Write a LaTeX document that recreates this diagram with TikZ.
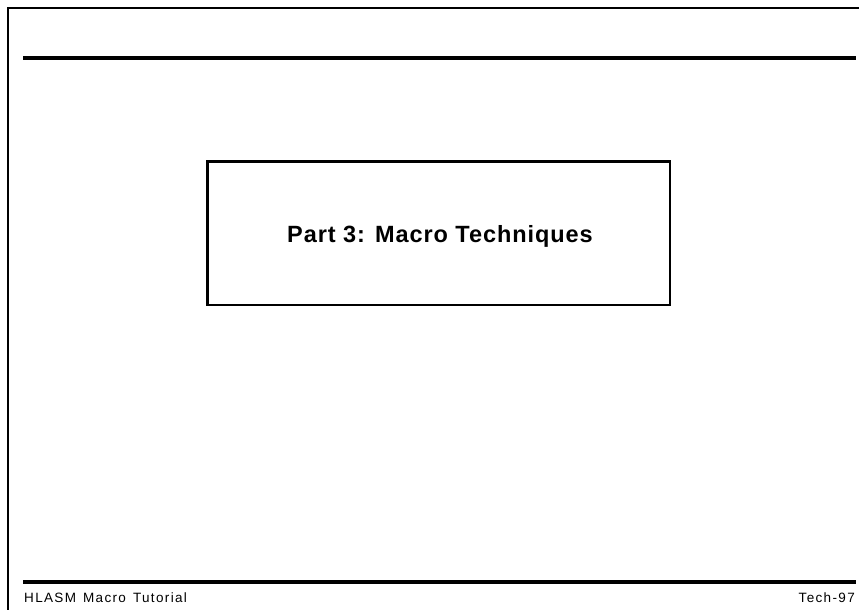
\documentclass[tikz,border=0pt]{standalone}
\usepackage{fontspec}
\setmainfont{Liberation Sans}
\newcommand\mytitlefont{\fontsize{23.5}{28}\selectfont\bfseries\addfontfeature{LetterSpace=4}}
\newcommand\myfootfont{\fontsize{13.5}{16}\selectfont\addfontfeature{LetterSpace=10}\spaceskip=7pt plus 1pt\relax}
\begin{document}
\begin{tikzpicture}[x=1pt,y=-1pt,
  frameline/.style={line width=1.2pt,black},
  rule/.style={line width=4.5pt,black},
  boxline/.style={line width=2.6pt,black},
  titletext/.style={inner sep=0pt,anchor=base,font={\mytitlefont}},
  foottext/.style={inner sep=0pt,font={\myfootfont}}]
\useasboundingbox (0,0) rectangle (859,610);
% outer frame
\coordinate (fbl) at (8,610);
\coordinate (ftl) at (8,8);
\coordinate (ftr) at (859,8);
\draw[frameline] (fbl) -- (ftl) -- (ftr);
% rules
\coordinate (r1a) at (23,58);
\coordinate (r1b) at (856,58);
\draw[rule] (r1a) -- (r1b);
\coordinate (r2a) at (23,582);
\coordinate (r2b) at (856,582);
\draw[rule] (r2a) -- (r2b);
% title box
\coordinate (bxa) at (207.5,161.7);
\coordinate (bxb) at (670,305);
\draw[boxline] (bxa) rectangle (bxb);
\node[titletext] (title) at (440,242.5) {Part 3: Macro Techniques};
% footer
\node[foottext,anchor=base west] (foot) at (24,602.7) {HLASM Macro Tutorial};
\node[foottext,anchor=base east] (page) at (855,602.7) {Tech-97};
\end{tikzpicture}
\end{document}
